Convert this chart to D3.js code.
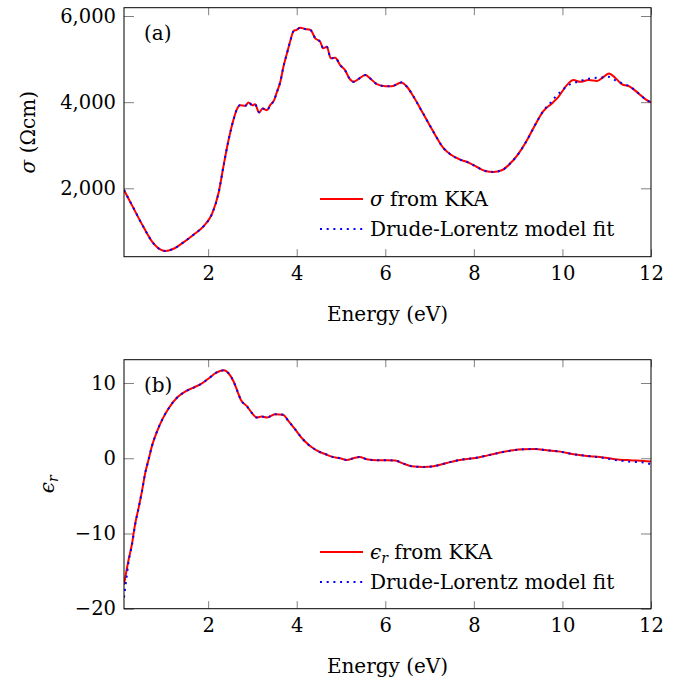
<!DOCTYPE html>
<meta charset="utf-8">
<style>
    body { margin: 0; background: #fff; }
    text { font-family: "DejaVu Serif", serif; font-size: 20px; fill: #000; }
    .tick line { stroke: #808080; stroke-width: 1; }
    .tick text { font-family: "DejaVu Serif", serif; font-size: 19.5px; }
    .kka { fill: none; stroke: #ff0000; stroke-width: 2; }
    .fit { fill: none; stroke: #0000ff; stroke-width: 2; stroke-dasharray: 2,4.7; }
</style>
<body>
<svg width=690 height=686></svg>
<script src="https://d3js.org/d3.v7.min.js"></script>
<script>
    // values
    var xTicks = [2, 4, 6, 8, 10, 12];
    var sigmaTicks = [2000, 4000, 6000];
    var epsTicks = [-20, -10, 0, 10];

    // (a) conductivity from KKA
    var sigmaE = [0.1, 0.32, 0.54, 0.77, 1.03, 1.22, 1.45, 1.67, 1.90, 2.09, 2.24, 2.35, 2.46, 2.58, 2.65, 2.72, 2.84, 2.91, 3.00, 3.06,
        3.15, 3.23, 3.33, 3.40, 3.49, 3.55, 3.63, 3.70, 3.78, 3.85, 3.93, 3.99, 4.08, 4.19, 4.31, 4.42, 4.53, 4.60, 4.68, 4.77,
        4.87, 4.98, 5.09, 5.19, 5.28, 5.39, 5.55, 5.66, 5.81, 6.00, 6.15, 6.36, 6.49, 6.64, 6.79, 6.98, 7.13, 7.31, 7.50, 7.69,
        7.88, 8.07, 8.26, 8.44, 8.63, 8.82, 9.01, 9.20, 9.38, 9.57, 9.76, 9.91, 10.10, 10.25, 10.40, 10.59, 10.78, 10.93, 11.05, 11.19,
        11.34, 11.53, 11.72, 11.88, 12.00];
    var sigmaKKA = [1960, 1528, 1100, 714, 542, 597, 751, 923, 1123, 1411, 1914, 2535, 3116, 3621, 3838, 3930, 3915, 3993, 3930, 3950,
        3760, 3854, 3814, 3930, 4047, 4226, 4473, 4822, 5133, 5403, 5652, 5675, 5729, 5698, 5675, 5482, 5403, 5249, 5287, 5017,
        5032, 4861, 4745, 4551, 4473, 4535, 4628, 4551, 4419, 4372, 4372, 4458, 4357, 4124, 3854, 3505, 3233, 2937, 2767, 2667,
        2597, 2495, 2403, 2380, 2419, 2574, 2807, 3116, 3465, 3791, 3970, 4124, 4396, 4512, 4473, 4512, 4490, 4589, 4667, 4566,
        4419, 4357, 4202, 4063, 3993];

    // (a) Drude-Lorentz fit
    var sigmaFitE = [0.1, 0.32, 0.54, 0.77, 1.03, 1.22, 1.45, 1.67, 1.90, 2.09, 2.24, 2.35, 2.46, 2.58, 2.65, 2.72, 2.84, 2.91, 3.00, 3.06,
        3.15, 3.23, 3.33, 3.40, 3.49, 3.55, 3.63, 3.70, 3.78, 3.85, 3.93, 3.99, 4.08, 4.19, 4.31, 4.42, 4.53, 4.60, 4.68, 4.77,
        4.87, 4.98, 5.09, 5.19, 5.28, 5.39, 5.55, 5.66, 5.81, 6.00, 6.15, 6.36, 6.49, 6.64, 6.79, 6.98, 7.13, 7.31, 7.50, 7.69,
        7.88, 8.07, 8.26, 8.44, 8.63, 8.82, 9.01, 9.20, 9.38, 9.57, 9.74, 9.86, 9.98, 10.10, 10.25, 10.40, 10.57, 10.72, 10.90, 11.03,
        11.19, 11.34, 11.53, 11.72, 11.88, 12.00];
    var sigmaFit = [1960, 1530, 1100, 714, 545, 597, 751, 923, 1123, 1411, 1914, 2535, 3116, 3621, 3838, 3930, 3915, 3990, 3930, 3950,
        3765, 3854, 3814, 3930, 4047, 4226, 4473, 4822, 5133, 5403, 5650, 5675, 5729, 5698, 5675, 5482, 5403, 5249, 5287, 5017,
        5032, 4861, 4745, 4551, 4473, 4535, 4628, 4551, 4419, 4372, 4372, 4458, 4357, 4124, 3854, 3505, 3233, 2937, 2767, 2667,
        2597, 2495, 2403, 2380, 2419, 2574, 2807, 3116, 3465, 3800, 3993, 4147, 4256, 4372, 4440, 4490, 4540, 4560, 4575, 4590,
        4510, 4440, 4357, 4202, 4063, 3993];

    // (b) real permittivity from KKA
    var epsE = [0.1, 0.20, 0.28, 0.35, 0.43, 0.505, 0.58, 0.655, 0.73, 0.84, 0.96, 1.11, 1.30, 1.48, 1.67, 1.86, 2.01, 2.16, 2.27, 2.36,
        2.46, 2.575, 2.65, 2.74, 2.88, 2.99, 3.10, 3.21, 3.33, 3.51, 3.69, 3.82, 3.97, 4.15, 4.34, 4.52, 4.64, 4.79, 4.98, 5.13,
        5.28, 5.42, 5.58, 5.81, 6.04, 6.22, 6.41, 6.60, 6.86, 7.09, 7.39, 7.69, 7.99, 8.29, 8.59, 8.89, 9.12, 9.38, 9.65, 9.95,
        10.25, 10.55, 10.85, 11.19, 11.53, 11.83, 12.00];
    var epsKKA = [-16.8, -13.6, -11.4, -8.8, -6.6, -4.4, -1.94, -0.18, 1.59, 3.48, 5.1, 6.65, 8.07, 8.86, 9.39, 9.96, 10.6, 11.3, 11.6, 11.7,
        11.3, 10.2, 9.08, 7.75, 6.88, 6.0, 5.42, 5.55, 5.42, 5.86, 5.77, 4.89, 3.79, 2.46, 1.46, 0.83, 0.57, 0.21, 0.0, -0.22,
        0.0, 0.17, -0.13, -0.27, -0.27, -0.31, -0.71, -1.06, -1.15, -1.06, -0.62, -0.22, 0.0, 0.35, 0.75, 1.06, 1.19, 1.23, 1.06, 0.88,
        0.53, 0.31, 0.17, -0.13, -0.27, -0.36, -0.44];

    // (b) Drude-Lorentz fit
    var epsFitE = [0.1, 0.15, 0.20, 0.28, 0.35, 0.43, 0.505, 0.58, 0.655, 0.73, 0.84, 0.96, 1.11, 1.30, 1.48, 1.67, 1.86, 2.01, 2.16, 2.27,
        2.36, 2.46, 2.575, 2.65, 2.74, 2.88, 2.99, 3.10, 3.21, 3.33, 3.51, 3.69, 3.82, 3.97, 4.15, 4.34, 4.52, 4.64, 4.79, 4.98,
        5.13, 5.28, 5.42, 5.58, 5.81, 6.04, 6.22, 6.41, 6.60, 6.86, 7.09, 7.39, 7.69, 7.99, 8.29, 8.59, 8.89, 9.12, 9.38, 9.65,
        9.95, 10.25, 10.55, 10.85, 11.19, 11.49, 11.83, 12.00];
    var epsFit = [-18.5, -16.2, -13.9, -11.5, -8.9, -6.6, -4.4, -1.94, -0.18, 1.59, 3.48, 5.1, 6.65, 8.07, 8.86, 9.39, 9.96, 10.6, 11.3, 11.6,
        11.7, 11.3, 10.2, 9.08, 7.75, 6.88, 6.0, 5.42, 5.55, 5.42, 5.86, 5.77, 4.89, 3.79, 2.46, 1.46, 0.83, 0.57, 0.21, 0.0,
        -0.22, 0.0, 0.17, -0.13, -0.27, -0.27, -0.31, -0.71, -1.06, -1.15, -1.06, -0.62, -0.22, 0.0, 0.35, 0.75, 1.06, 1.19, 1.23, 1.06,
        0.88, 0.53, 0.31, 0.12, -0.22, -0.44, -0.58, -0.80];

    var svg = d3.select("svg");
    var left = 124, right = 651;

    function panel(o) {
        var x = d3.scaleLinear().domain([0.1, 12]).range([left, right]);
        var y = d3.scaleLinear().domain(o.yDomain).range([o.bottom, o.top]);
        var g = svg.append("g");

        g.append("clipPath").attr("id", o.id)
            .append("rect").attr("x", left).attr("y", o.top)
            .attr("width", right - left).attr("height", o.bottom - o.top);

        // inward ticks on all four sides
        g.append("g").attr("transform", `translate(0,${o.bottom})`)
            .call(d3.axisBottom(x).tickValues(xTicks).tickSizeInner(-7.5).tickSizeOuter(0).tickPadding(9));
        g.append("g").attr("transform", `translate(0,${o.top})`)
            .call(d3.axisTop(x).tickValues(xTicks).tickSizeInner(-7.5).tickSizeOuter(0).tickFormat(""));
        g.append("g").attr("transform", `translate(${left},0)`)
            .call(d3.axisLeft(y).tickValues(o.yTicks).tickSizeInner(-10).tickSizeOuter(0).tickPadding(8).tickFormat(o.fmt));
        g.append("g").attr("transform", `translate(${right},0)`)
            .call(d3.axisRight(y).tickValues(o.yTicks).tickSizeInner(-10).tickSizeOuter(0).tickFormat(""));
        g.selectAll(".domain").remove();
        g.selectAll(".tick text").attr("fill", "#000").attr("font-family", null).attr("font-size", null);

        var line = d3.line()
            .x(function (d) { return x(d[0]); })
            .y(function (d) { return y(d[1]); })
            .curve(d3.curveMonotoneX);

        g.append("path").attr("class", "kka").attr("clip-path", `url(#${o.id})`)
            .attr("d", line(d3.zip(o.kkaE, o.kka)));
        g.append("path").attr("class", "fit").attr("clip-path", `url(#${o.id})`)
            .attr("d", line(d3.zip(o.fitE, o.fit)));

        g.append("rect").attr("x", left).attr("y", o.top)
            .attr("width", right - left).attr("height", o.bottom - o.top)
            .attr("fill", "none").attr("stroke", "#000").attr("stroke-width", 1);

        g.append("text").attr("x", 144).attr("y", o.top + 32).text(o.tag);

        // legend
        g.append("line").attr("class", "kka").attr("x1", 320).attr("x2", 363)
            .attr("y1", o.legY).attr("y2", o.legY);
        g.append("line").attr("class", "fit").attr("x1", 320).attr("x2", 363)
            .attr("y1", o.legY + 30).attr("y2", o.legY + 30);
        o.legText(g.append("text").attr("x", 370).attr("y", o.legY + 7));
        g.append("text").attr("x", 370).attr("y", o.legY + 37).text("Drude-Lorentz model fit");

        g.append("text").attr("x", (left + right) / 2).attr("y", o.bottom + 64)
            .attr("text-anchor", "middle").text("Energy (eV)");
        o.yLabel(g.append("text").attr("text-anchor", "middle")
            .attr("transform", `translate(${o.yLabX},${(o.top + o.bottom) / 2}) rotate(-90)`));
    }

    function epsR(t) {
        t.append("tspan").attr("font-style", "italic").text("ϵ");
        t.append("tspan").attr("font-style", "italic").attr("font-size", 14).attr("dy", 4).text("r");
        return t;
    }

    panel({
        id: "clipA", top: 7.7, bottom: 256.7, yDomain: [412, 6193], yTicks: sigmaTicks,
        fmt: d3.format(","), kkaE: sigmaE, kka: sigmaKKA, fitE: sigmaFitE, fit: sigmaFit,
        tag: "(a)", legY: 199, yLabX: 35,
        legText: function (t) {
            t.append("tspan").attr("font-style", "italic").text("σ");
            t.append("tspan").text(" from KKA");
        },
        yLabel: function (t) {
            t.append("tspan").attr("font-style", "italic").text("σ");
            t.append("tspan").text(" (Ωcm)");
        }
    });

    panel({
        id: "clipB", top: 359.7, bottom: 608.7, yDomain: [-20, 13.1], yTicks: epsTicks,
        fmt: d3.format("d"), kkaE: epsE, kka: epsKKA, fitE: epsFitE, fit: epsFit,
        tag: "(b)", legY: 552, yLabX: 54,
        legText: function (t) {
            epsR(t);
            t.append("tspan").attr("dy", -4).text(" from KKA");
        },
        yLabel: function (t) { epsR(t); }
    });
</script>
</body>
